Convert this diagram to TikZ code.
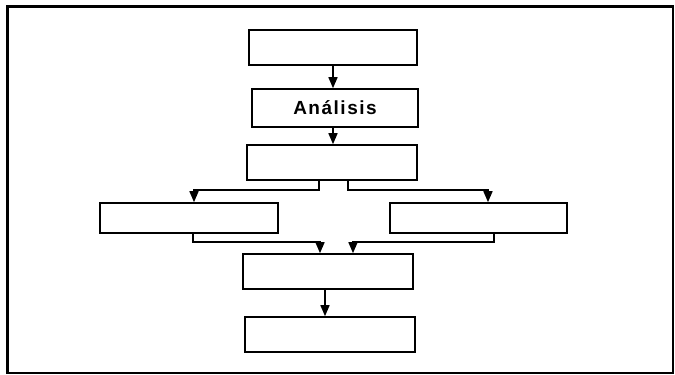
\documentclass[tikz,border=0pt]{standalone}
\usepackage{fontspec}
\setsansfont{Liberation Sans}
\usetikzlibrary{arrows.meta}
\begin{document}
\begin{tikzpicture}[x=1pt,y=-1pt,
  stagebox/.style={draw,line width=1.6pt,rectangle,inner sep=0pt,
    minimum width=#1,font=\sffamily\bfseries\fontsize{19}{22}\selectfont},
  stagebox/.default=170pt,
  flow/.style={line width=1.5pt,-{Triangle[width=9pt,length=11pt]}}]
  \useasboundingbox (0,0) rectangle (675,375);
  % outer frame
  \draw[line width=2.6pt] (7.5,6.5) rectangle (673,373);
  % stages
  \node[stagebox=168pt,minimum height=35pt] (b1) at (333,47.5) {};
  \node[stagebox=166pt,minimum height=38pt] (b2) at (335,108)
    {\addfontfeature{LetterSpace=8}Análisis};
  \node[stagebox=170pt,minimum height=35pt] (b3) at (332,162.5) {};
  \node[stagebox=178pt,minimum height=30pt] (b4) at (189,218) {};
  \node[stagebox=177pt,minimum height=30pt] (b5) at (478.5,218) {};
  \node[stagebox=170pt,minimum height=35pt] (b6) at (328,271.5) {};
  \node[stagebox=170pt,minimum height=35pt] (b7) at (330,334.5) {};
  % connectors
  \draw[flow] (b1.south) -- (b1.south |- b2.north);
  \draw[flow] ([xshift=-2]b2.south) -- ([xshift=-2]b2.south |- b3.north);
  \draw[flow] ([xshift=-13]b3.south) -- ++(0,9) -| ([xshift=5]b4.north);
  \draw[flow] ([xshift=16]b3.south) -- ++(0,9) -| ([xshift=9.5]b5.north);
  \draw[flow] ([xshift=4]b4.south) -- ++(0,8) -| ([xshift=-8]b6.north);
  \draw[flow] ([xshift=15.5]b5.south) -- ++(0,8) -| ([xshift=25]b6.north);
  \draw[flow] ([xshift=-3]b6.south) -- ([xshift=-3]b6.south |- b7.north);
\end{tikzpicture}
\end{document}
